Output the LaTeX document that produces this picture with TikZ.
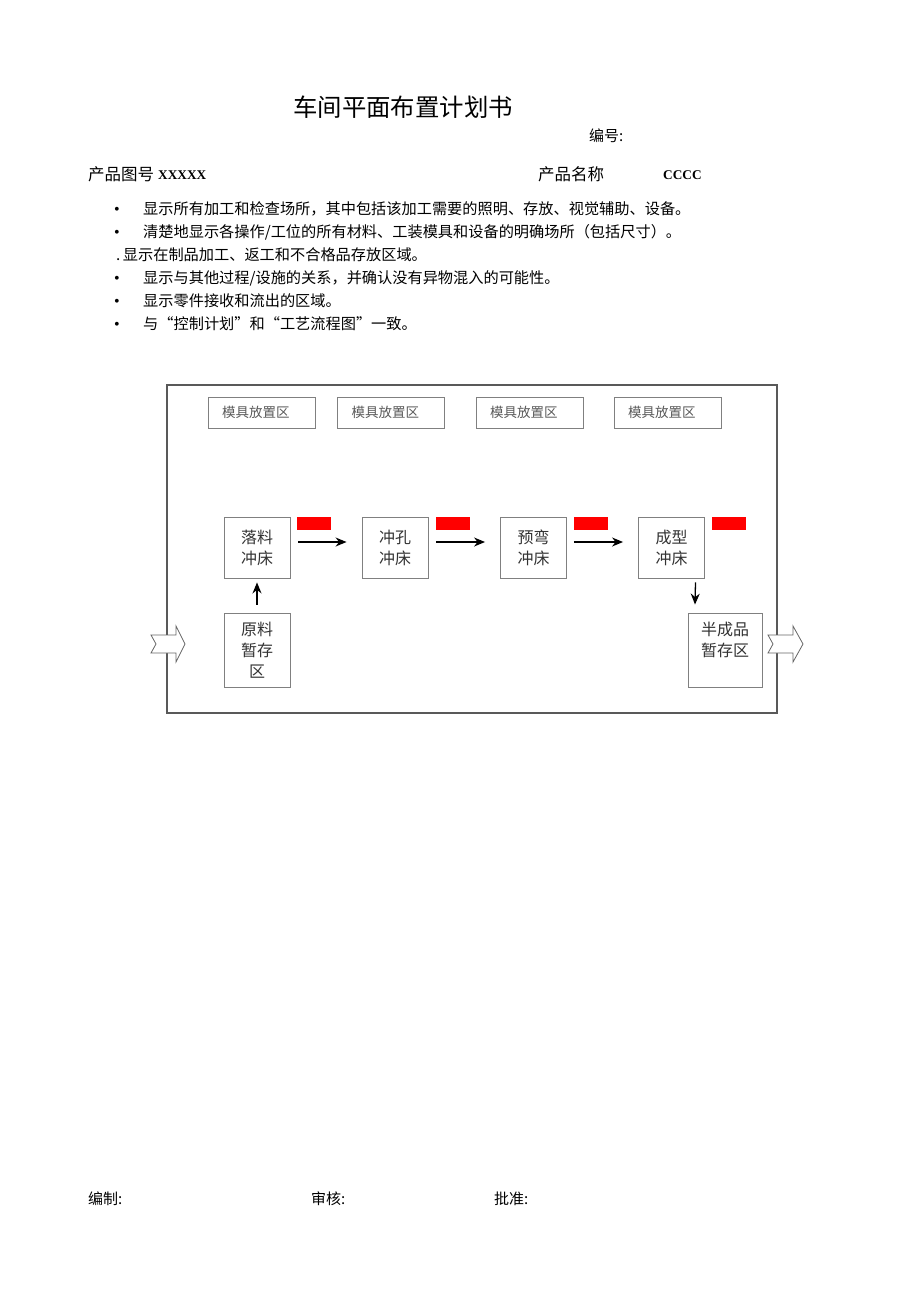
\documentclass[tikz,border=0pt]{standalone}
\usepackage{fontspec}
\setmainfont{Liberation Serif}
\newfontfamily\cjk{Noto Sans CJK SC}
\usetikzlibrary{arrows.meta}
\begin{document}
\begin{tikzpicture}[x=1pt,y=-1pt,
  txt/.style={inner sep=0pt, anchor=west, font=\cjk\fontsize{15.2}{18}\selectfont},
  bul/.style={inner sep=0pt, anchor=west, font=\fontsize{16}{18}\selectfont},
  moldbox/.style={draw=black!50, line width=0.9pt, minimum height=31pt, text width=79pt, align=left, inner xsep=14pt, inner ysep=0pt, text=black!65, font=\cjk\fontsize{13.5}{16}\selectfont},
  pressbox/.style={draw=black!50, line width=0.9pt, minimum width=66pt, minimum height=61pt, inner sep=0pt, align=center, text=black!80, font=\cjk\fontsize{16}{21}\selectfont},
  flow/.style={draw=black, line width=1.3pt, -{Stealth[length=11pt,width=9pt]}},
  redbar/.style={fill=red},
  blockarrow/.style={draw=black!60, line width=0.8pt, fill=white},
  frame/.style={draw=black!65, line width=1.6pt}
]
\useasboundingbox[fill=white] (0,0) rectangle (920,1301);

% header texts
\node[txt, font=\cjk\fontsize{24.4}{28}\selectfont] (title) at (293,107) {车间平面布置计划书};
\node[txt, font=\cjk\fontsize{15}{18}\selectfont] (bianhao) at (589,136) {编号:};
\node[txt, font=\cjk\fontsize{16.5}{18}\selectfont] (tuhao) at (88,174) {产品图号};
\node[txt, font=\bfseries\fontsize{13.3}{15}\selectfont] (tuhaov) at (158,175) {XXXXX};
\node[txt, font=\cjk\fontsize{16.5}{18}\selectfont] (mingcheng) at (538,174) {产品名称};
\node[txt, font=\bfseries\fontsize{13.3}{15}\selectfont] (mingchengv) at (663,175) {CCCC};

% bullets
\node[bul] (b1) at (114,210.5) {\textbullet};
\node[txt] (t1) at (143,209) {显示所有加工和检查场所，其中包括该加工需要的照明、存放、视觉辅助、设备。};
\node[bul] (b2) at (114,233.5) {\textbullet};
\node[txt] (t2) at (143,232) {清楚地显示各操作/工位的所有材料、工装模具和设备的明确场所（包括尺寸）。};
\node[txt] (t3) at (116,255) {.\,显示在制品加工、返工和不合格品存放区域。};
\node[bul] (b4) at (114,279.5) {\textbullet};
\node[txt] (t4) at (143,278) {显示与其他过程/设施的关系，并确认没有异物混入的可能性。};
\node[bul] (b5) at (114,302.5) {\textbullet};
\node[txt] (t5) at (143,301) {显示零件接收和流出的区域。};
\node[bul] (b6) at (114,325.5) {\textbullet};
\node[txt] (t6) at (143,324) {与“控制计划”和“工艺流程图”一致。};

% frame
\draw[frame] (167,385) rectangle (777,713);

% mold boxes
\node[moldbox] (m1) at (261.5,412.5) {模具放置区};
\node[moldbox] (m2) at (391,412.5) {模具放置区};
\node[moldbox] (m3) at (529.5,412.5) {模具放置区};
\node[moldbox] (m4) at (667.5,412.5) {模具放置区};

% press boxes
\node[pressbox] (p1) at (257,547.5) {落料\\冲床};
\node[pressbox] (p2) at (395,547.5) {冲孔\\冲床};
\node[pressbox] (p3) at (533.5,547.5) {预弯\\冲床};
\node[pressbox] (p4) at (671.5,547.5) {成型\\冲床};

% storage boxes
\node[pressbox, minimum height=74pt] (raw) at (257,650) {原料\\暂存\\区};
\node[pressbox, minimum width=74pt, minimum height=74pt] (semi) at (725,650) {半成品\\暂存区\\\phantom{区}};

% red bars
\fill[redbar] (297,517) rectangle (331,530);
\fill[redbar] (436,517) rectangle (470,530);
\fill[redbar] (574,517) rectangle (608,530);
\fill[redbar] (712,517) rectangle (746,530);

% flow arrows
\draw[flow] ([shift={(8,-5.5)}]p1.east) -- ([shift={(-15,-5.5)}]p2.west);
\draw[flow] ([shift={(8,-5.5)}]p2.east) -- ([shift={(-15,-5.5)}]p3.west);
\draw[flow] ([shift={(7,-5.5)}]p3.east) -- ([shift={(-15,-5.5)}]p4.west);
\draw[flow] ([shift={(0,-8)}]raw.north) -- ([shift={(0,4)}]p1.south);
\draw[flow] ([shift={(24,4)}]p4.south) -- ([shift={(-30,-8)}]semi.north);

% in / out block arrows
\draw[blockarrow] (151,635) -- (176,635) -- (176,626) -- (185,644) -- (176,662) -- (176,653) -- (151,653) -- (156,644) -- cycle;
\draw[blockarrow] (768,635) -- (793,635) -- (793,626) -- (803,644) -- (793,662) -- (793,653) -- (768,653) -- (773,644) -- cycle;

% footer
\node[txt, font=\cjk\fontsize{15}{18}\selectfont] (f1) at (88,1199) {编制:};
\node[txt, font=\cjk\fontsize{15}{18}\selectfont] (f2) at (311,1199) {审核:};
\node[txt, font=\cjk\fontsize{15}{18}\selectfont] (f3) at (494,1199) {批准:};
\end{tikzpicture}
\end{document}
